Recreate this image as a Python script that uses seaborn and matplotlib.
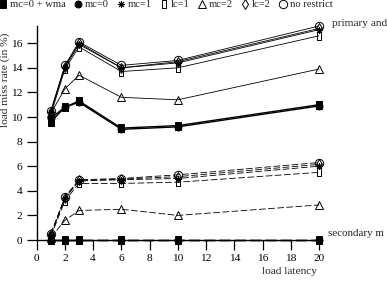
import numpy as np
import pandas as pd
import matplotlib
matplotlib.use("Agg")
import matplotlib.pyplot as plt
from matplotlib.lines import Line2D
import seaborn as sns

# ---- data ----
latency = [1, 2, 3, 6, 10, 20]
series_names = ["mc=0 + wma", "mc=0", "mc=1", "lc=1", "mc=2", "lc=2", "no restrict"]

primary_wma = [9.6, 10.8, 11.3, 9.1, 9.3, 11.0]
primary_mc0 = [9.9, 10.8, 11.2, 9.0, 9.2, 10.9]
primary_mc1 = [10.4, 14.1, 15.9, 14.0, 14.4, 17.1]
primary_lc1 = [10.2, 13.9, 15.7, 13.7, 14.0, 16.6]
primary_mc2 = [10.3, 12.3, 13.4, 11.6, 11.4, 13.9]
primary_lc2 = [10.4, 14.1, 16.0, 14.0, 14.5, 17.2]
primary_nr = [10.5, 14.2, 16.1, 14.2, 14.6, 17.4]

secondary_wma = [0, 0, 0, 0, 0, 0]
secondary_mc0 = [0, 0, 0, 0, 0, 0]
secondary_mc1 = [0.4, 3.4, 4.8, 4.9, 5.0, 6.0]
secondary_lc1 = [0.3, 3.2, 4.6, 4.6, 4.7, 5.5]
secondary_mc2 = [0.2, 1.6, 2.4, 2.5, 2.0, 2.85]
secondary_lc2 = [0.45, 3.45, 4.85, 4.95, 5.15, 6.15]
secondary_nr = [0.5, 3.5, 4.9, 5.0, 5.3, 6.3]

xticks = list(range(0, 21, 2))
yticks = list(range(0, 17, 2))

primary = [primary_wma, primary_mc0, primary_mc1, primary_lc1, primary_mc2, primary_lc2, primary_nr]
secondary = [secondary_wma, secondary_mc0, secondary_mc1, secondary_lc1, secondary_mc2, secondary_lc2, secondary_nr]

# ---- styles ----
tall_rect = [(-0.45, -1), (0.45, -1), (0.45, 1), (-0.45, 1), (-0.45, -1)]
fsq = [(-0.8, -1), (0.8, -1), (0.8, 1), (-0.8, 1), (-0.8, -1)]
styles = [
    dict(marker=fsq, filled=True, ms=5.5, lw=1.0),
    dict(marker="o", filled=True, ms=5, lw=1.0),
    dict(marker=(8, 2, 0), filled=False, ms=5, lw=0.6),
    dict(marker=tall_rect, filled=False, ms=5.5, lw=0.6),
    dict(marker="^", filled=False, ms=6, lw=0.6),
    dict(marker="d", filled=False, ms=5.5, lw=0.6),
    dict(marker="o", filled=False, ms=6, lw=0.6),
]

sns.set_style("ticks")
plt.rcParams["font.family"] = ["Liberation Serif", "DejaVu Serif"]

W, H = 387, 285
FS = 8.2
fig = plt.figure(figsize=(W / 100, H / 100), dpi=100)
ax_left = 36.7 / W
ax_right = 321.8 / W
ax_bottom = (H - 240) / H
ax_top = (H - 26.0) / H
ax = fig.add_axes([ax_left, ax_bottom, ax_right - ax_left, ax_top - ax_bottom])

for vals, dashes in [(primary, None), (secondary, (8, 3))]:
    for name, v, st in zip(series_names, vals, styles):
        df = pd.DataFrame({"latency": latency, "rate": v})
        kw = dict(color="black", linewidth=st["lw"], marker=st["marker"],
                  markersize=st["ms"], markeredgecolor="black", markeredgewidth=0.7,
                  clip_on=False, zorder=3)
        kw["markerfacecolor"] = "black" if st["filled"] else "none"
        if dashes is not None:
            kw["dashes"] = dashes
        sns.lineplot(data=df, x="latency", y="rate", ax=ax, legend=False, **kw)

ax.set_xlim(0, 20.2)
ax.set_ylim(0, 17.4)
ax.set_xticks(xticks)
ax.set_yticks(yticks)
ax.spines["right"].set_visible(False)
ax.spines["top"].set_visible(False)
for s in ["left", "bottom"]:
    ax.spines[s].set_linewidth(1.0)
    ax.spines[s].set_color("black")
ax.tick_params(direction="out", length=7.2, width=0.9, labelsize=FS, pad=3, colors="black")
ax.set_xlabel("")
ax.set_ylabel("")

fig.text(317 / W, (H - 272) / H, "load latency", ha="right", va="center", fontsize=FS)
fig.text(5.5 / W, (H - 80) / H, "load miss rate (in %)", rotation=90, ha="center", va="center", fontsize=FS)
fig.text(332 / W, (H - 23) / H, "primary and", ha="left", va="center", fontsize=FS)
fig.text(328 / W, (H - 234) / H, "secondary m", ha="left", va="center", fontsize=7.9)

handles = []
for name, st in zip(series_names, styles):
    handles.append(Line2D([], [], linestyle="none", marker=st["marker"], markersize=st["ms"],
                          color="black", markeredgewidth=0.7,
                          markerfacecolor="black" if st["filled"] else "none"))
fig.legend(handles, series_names, ncol=7, loc="upper left", bbox_to_anchor=(0.0, 1.0),
           frameon=False, handlelength=0.6, handletextpad=0.35, columnspacing=0.85,
           fontsize=7.6, borderaxespad=0, borderpad=0)

fig.savefig("out.png", dpi=100)
